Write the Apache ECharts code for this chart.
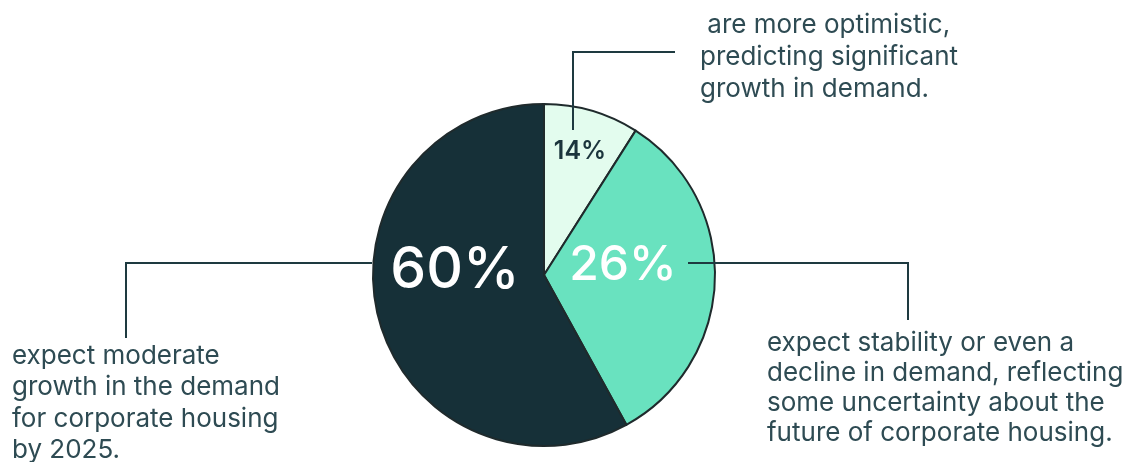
<!DOCTYPE html>
<html>
<head>
<meta charset="utf-8">
<script src="https://cdn.jsdelivr.net/npm/echarts@6/dist/echarts.min.js"></script>
<style>
html,body{margin:0;padding:0;background:#fff;}
#c{width:1136px;height:462px;}
</style>
</head>
<body>
<div id="c"></div>
<script>
// Slice shares as drawn in the picture (angles measured), and the printed labels
const categories = ['optimistic', 'stability or decline', 'moderate growth'];
const sliceValues = [9, 33, 58];
const percentLabels = ['14%', '26%', '60%'];
const sliceColors = ['#e3fcee', '#69e2bf', '#163038'];
const descTop = [' are more optimistic,', 'predicting significant', 'growth in demand.'];
const descLeft = ['expect moderate', 'growth in the demand', 'for corporate housing', 'by 2025.'];
const descRight = ['expect stability or even a', 'decline in demand, reflecting', 'some uncertainty about the', 'future of corporate housing.'];

const labelCfg = [
  {x: 580, y: 151, size: 25, color: '#1b353c', weight: 600},
  {x: 623, y: 266, size: 48, color: '#ffffff', weight: 500},
  {x: 455, y: 271, size: 57, color: '#ffffff', weight: 500}
];

const FONT = 'Inter, "Noto Sans", sans-serif';
const TXT = '#2e4b53';
const LINE = '#1e3a40';

const chart = echarts.init(document.getElementById('c'), null, {renderer: 'canvas'});

const lineStyle = {stroke: LINE, lineWidth: 2, fill: null};
function poly(points) {
  return {type: 'polyline', shape: {points: points}, style: lineStyle, z: 10};
}
function para(lines, x, y, lh) {
  return {
    type: 'text', x: x, y: y, z: 10,
    style: {text: lines.join('\n'), font: '400 26px ' + FONT, fill: TXT, lineHeight: lh, verticalAlign: 'top', align: 'left'}
  };
}

chart.setOption({
  backgroundColor: '#ffffff',
  animation: false,
  series: [{
    type: 'pie',
    center: [544, 275],
    radius: 171,
    startAngle: 90,
    clockwise: true,
    silent: true,
    data: categories.map((c, i) => ({
      name: c,
      value: sliceValues[i],
      itemStyle: {color: sliceColors[i]},
      label: {
        fontSize: labelCfg[i].size,
        color: labelCfg[i].color,
        fontWeight: labelCfg[i].weight
      }
    })),
    itemStyle: {borderColor: '#1f2a2c', borderWidth: 2},
    label: {
      show: true,
      position: 'inside',
      fontFamily: FONT,
      formatter: p => percentLabels[p.dataIndex]
    },
    labelLine: {show: false},
    labelLayout: function (params) {
      const c = labelCfg[params.dataIndex];
      return {x: c.x, y: c.y, align: 'center', verticalAlign: 'middle'};
    }
  }],
  graphic: [
    poly([[573, 130], [573, 52], [675, 52]]),
    poly([[372, 263], [126, 263], [126, 338]]),
    poly([[688, 263], [908, 263], [908, 320]]),
    para(descTop, 700, 9, 32),
    para(descLeft, 12, 340, 31.5),
    para(descRight, 767, 328, 30)
  ]
});
</script>
</body>
</html>
